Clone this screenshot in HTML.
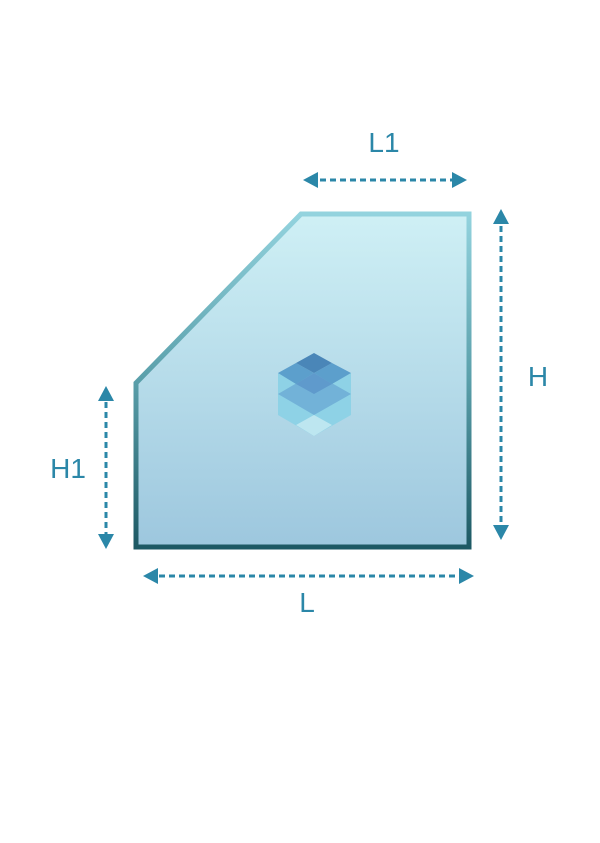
<!DOCTYPE html>
<html><head><style>html,body{margin:0;padding:0;background:#fff}svg{display:block}</style></head><body>
<svg width="600" height="843" viewBox="0 0 600 843" xmlns="http://www.w3.org/2000/svg">
<defs>
<linearGradient id="f" x1="0" y1="214" x2="0" y2="547" gradientUnits="userSpaceOnUse"><stop offset="0" stop-color="#cff0f5"/><stop offset="1" stop-color="#9dc7de"/></linearGradient>
<linearGradient id="s" x1="0" y1="214" x2="0" y2="547" gradientUnits="userSpaceOnUse"><stop offset="0" stop-color="#93d3de"/><stop offset="0.5" stop-color="#5a9faa"/><stop offset="1" stop-color="#1d5964"/></linearGradient>
</defs>
<polygon points="301,214 469,214 469,547 136,547 136,383" fill="url(#f)" stroke="url(#s)" stroke-width="5"/>
<g>
<polygon points="278,373 314,394 314,436 278,415" fill="#8ed2e6"/>
<polygon points="351,373 314,394 314,436 351,415" fill="#8ed2e6"/>
<polygon points="296,425 314,415 332,425 314,436" fill="#bde6f0"/>
<polygon points="278,394 314,373 351,394 314,415" fill="#72b2d8"/>
<polygon points="278,373 296,363 314,373 296,384" fill="#5c9fcc"/>
<polygon points="351,373 332,363 314,373 332,384" fill="#5c9fcc"/>
<polygon points="296,384 314,373 332,384 314,394" fill="#5f9acc"/>
<polygon points="296,363 314,353 332,363 314,373" fill="#4a86b8"/>
</g>
<g stroke="#2b87a8" stroke-width="3" stroke-dasharray="6 4" fill="none">
<line x1="320" y1="180" x2="452" y2="180"/>
<line x1="501" y1="226" x2="501" y2="524"/>
<line x1="106" y1="402" x2="106" y2="534"/>
<line x1="159" y1="576" x2="458" y2="576"/>
</g>
<g fill="#2b87a8">
<polygon points="303,180 318,172 318,188"/><polygon points="467,180 452,172 452,188"/>
<polygon points="501,209 493,224 509,224"/><polygon points="501,540 493,525 509,525"/>
<polygon points="106,386 98,401 114,401"/><polygon points="106,549 98,534 114,534"/>
<polygon points="143,576 158,568 158,584"/><polygon points="474,576 459,568 459,584"/>
</g>
<g fill="#2b87a8" font-family="Liberation Sans, sans-serif" font-size="28" text-anchor="middle">
<text x="384" y="152">L1</text>
<text x="538" y="386">H</text>
<text x="68" y="478">H1</text>
<text x="307" y="612">L</text>
</g>
</svg>
</body></html>
